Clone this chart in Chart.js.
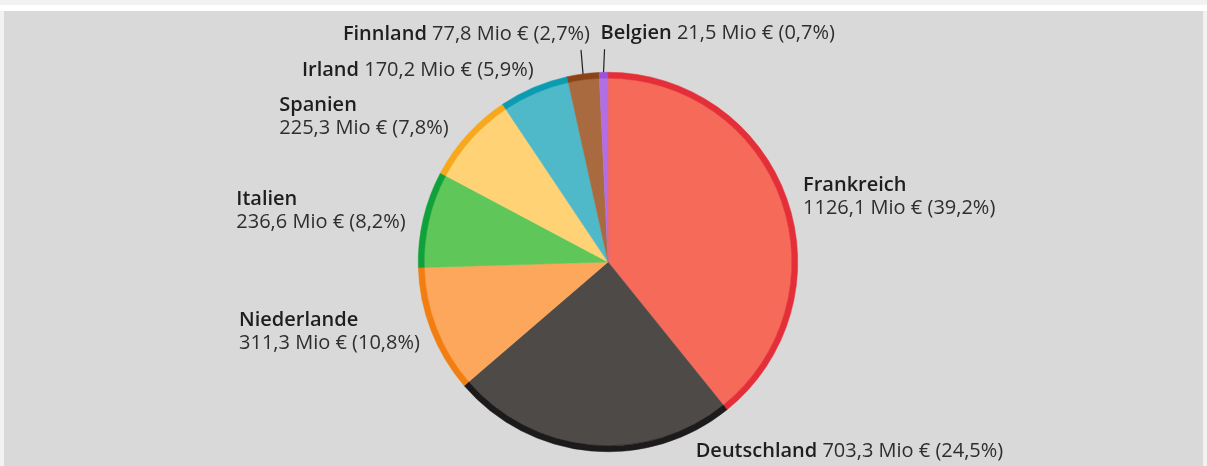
<!DOCTYPE html>
<html lang="de">
<head>
<meta charset="utf-8">
<title>Anteile nach Ländern</title>
<script src="https://cdn.jsdelivr.net/npm/chart.js@4.4.1/dist/chart.umd.min.js"></script>
<style>
    html, body {
        margin: 0;
        padding: 0;
        width: 1207px;
        height: 466px;
        overflow: hidden;
        background: #f2f2f2;
    }
    .band {
        position: absolute;
        left: 0;
        top: 5px;
        width: 1207px;
        height: 6px;
        background: #ffffff;
    }
    .panel {
        position: absolute;
        left: 4px;
        top: 11px;
        width: 1199px;
        height: 455px;
        background: #d9d9d9;
    }
    #pieChart {
        position: absolute;
        left: 0;
        top: 0;
    }
</style>
</head>
<body>
<div class="band"></div>
<div class="panel"></div>
<canvas id="pieChart" width="1207" height="466"></canvas>
<script>
// Data
const countries = ['Frankreich', 'Deutschland', 'Niederlande', 'Italien', 'Spanien', 'Irland', 'Finnland', 'Belgien'];
const amounts = [1126.1, 703.3, 311.3, 236.6, 225.3, 170.2, 77.8, 21.5];
const shares = [39.2, 24.5, 10.8, 8.2, 7.8, 5.9, 2.7, 0.7];

// Slice colours: inner fill and the darker outer rim
const fillColors = ['#f56a59', '#4d4a47', '#fda75c', '#5fc75a', '#ffd275', '#4fb8c9', '#a96a3f', '#b36ee3'];
const rimColors = ['#e52f38', '#1c1a1a', '#f27d10', '#11a13b', '#f8a81c', '#0b9cb2', '#8b4415', '#9f4fd8'];

// Label placement relative to each slice's mid angle
const labelLayout = [
    { dist: 16, dx: 1, dy: 3, align: 'left', lines: 2 },
    { dist: 0, dx: 105, dy: 0, align: 'left', lines: 1 },
    { dist: 12, dx: 0, dy: -3, align: 'right', lines: 2 },
    { dist: 18, dx: 0, dy: -4, align: 'right', lines: 2 },
    { dist: 25, dx: 0, dy: -1, align: 'right', lines: 2 },
    { dist: 10, dx: 4, dy: -8, align: 'right', lines: 1 },
    { dist: 0, dx: 7, dy: -40, align: 'right', lines: 1, leader: -2 },
    { dist: 0, dx: -3, dy: -39, align: 'left', lines: 1, leader: 1 }
];

const FONT = '"Open Sans", "Noto Sans", sans-serif';
const FONT_SIZE = 20;
const LINE_GAP = 23;

function fmt(n) {
    return n.toFixed(1).replace('.', ',');
}

// Draws the country labels beside the slices
const sliceLabels = {
    id: 'sliceLabels',
    afterDatasetsDraw(chart) {
        const ctx = chart.ctx;
        const outer = chart.getDatasetMeta(0).data;
        const inner = chart.getDatasetMeta(1).data;
        const bold = '600 ' + FONT_SIZE + 'px ' + FONT;
        const normal = '400 ' + FONT_SIZE + 'px ' + FONT;

        ctx.save();
        ctx.textBaseline = 'middle';
        ctx.textAlign = 'left';

        inner.forEach((arc, i) => {
            const lay = labelLayout[i];
            const mid = (arc.startAngle + arc.endAngle) / 2;
            const r = outer[i].outerRadius;
            const ax = arc.x + Math.cos(mid) * (r + lay.dist) + lay.dx;
            const ay = arc.y + Math.sin(mid) * (r + lay.dist) + lay.dy;

            const name = countries[i];
            const value = fmt(amounts[i]) + ' Mio € (' + fmt(shares[i]) + '%)';

            if (lay.leader !== undefined) {
                const px = arc.x + Math.cos(mid) * r;
                const py = arc.y + Math.sin(mid) * r;
                ctx.strokeStyle = '#222';
                ctx.lineWidth = 1.2;
                ctx.beginPath();
                ctx.moveTo(px, py);
                ctx.lineTo(px + lay.leader, ay + 16);
                ctx.stroke();
            }

            ctx.font = bold;
            const wName = ctx.measureText(name).width;
            const wSpace = ctx.measureText(' ').width;
            ctx.font = normal;
            const wValue = ctx.measureText(value).width;

            if (lay.lines === 2) {
                // both lines share a left edge
                const block = Math.max(wName, wValue);
                const x0 = lay.align === 'right' ? ax - block : ax;
                ctx.font = bold;
                ctx.fillStyle = '#1e1e1e';
                ctx.fillText(name, x0, ay - LINE_GAP / 2);
                ctx.font = normal;
                ctx.fillStyle = '#2e2e2e';
                ctx.fillText(value, x0, ay + LINE_GAP / 2);
            } else {
                const total = wName + wSpace + wValue;
                const x0 = lay.align === 'right' ? ax - total : ax;
                ctx.font = bold;
                ctx.fillStyle = '#1e1e1e';
                ctx.fillText(name, x0, ay);
                ctx.font = normal;
                ctx.fillStyle = '#2e2e2e';
                ctx.fillText(value, x0 + wName + wSpace, ay);
            }
        });
        ctx.restore();
    }
};

function initializeChart() {
    const ctx = document.getElementById('pieChart').getContext('2d');
    new Chart(ctx, {
        type: 'pie',
        data: {
            labels: countries,
            datasets: [
                {
                    data: amounts,
                    backgroundColor: rimColors,
                    borderColor: rimColors,
                    borderWidth: 0.5,
                    weight: 6
                },
                {
                    data: amounts,
                    backgroundColor: fillColors,
                    borderColor: fillColors,
                    borderWidth: 0.5,
                    weight: 184
                }
            ]
        },
        options: {
            responsive: false,
            animation: false,
            events: [],
            layout: {
                padding: { left: 418, right: 409, top: 72, bottom: 14 }
            },
            plugins: {
                legend: { display: false },
                tooltip: { enabled: false }
            }
        },
        plugins: [sliceLabels]
    });
}

document.addEventListener('DOMContentLoaded', initializeChart);
</script>
</body>
</html>
